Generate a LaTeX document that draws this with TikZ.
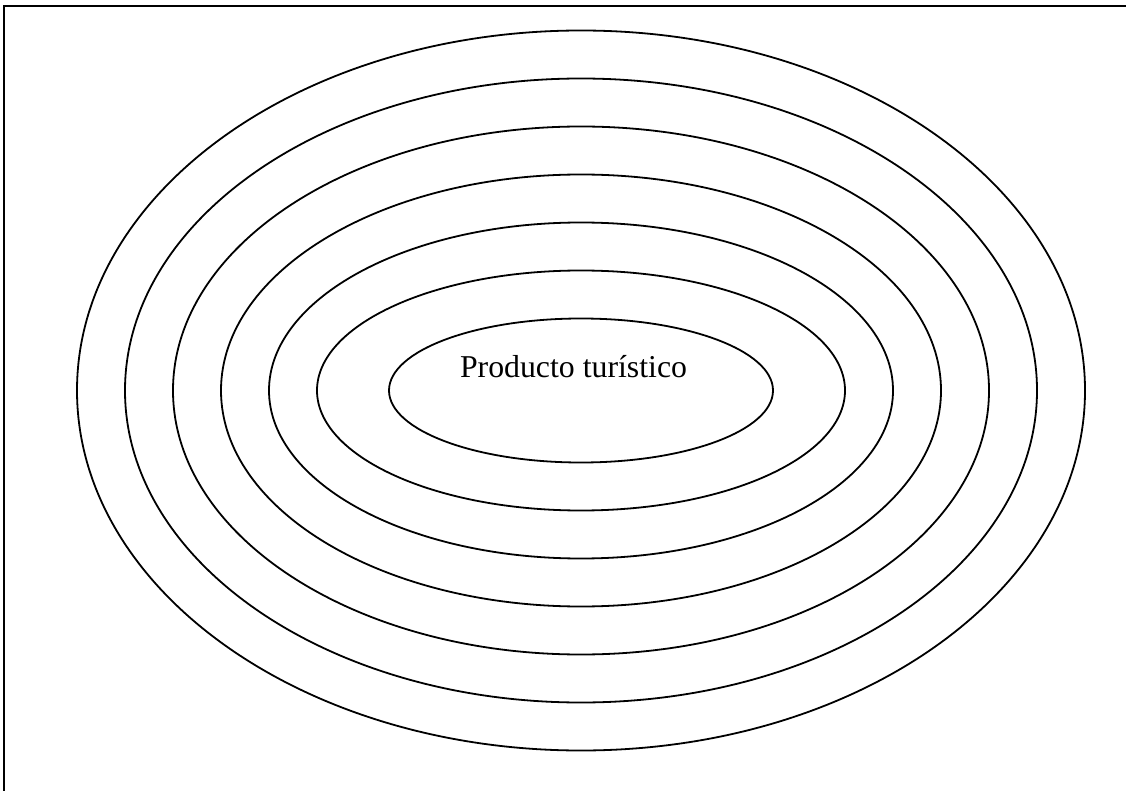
\documentclass[tikz,border=0pt]{standalone}
\usepackage{fontspec}
\setmainfont{Liberation Serif}
\usetikzlibrary{shapes.geometric}
\begin{document}
\begin{tikzpicture}[x=1pt,y=-1pt,
  ring/.style={draw, ellipse, line width=1.8pt, inner sep=0pt, minimum width=2*#1},
  frameline/.style={line width=2.4pt, line cap=rect},
  label/.style={font=\fontsize{31.8}{36}\selectfont, inner sep=0pt, anchor=base}]
  \useasboundingbox (0,0) rectangle (1126,791);
  % frame edges
  \coordinate (ftr) at (1126,6);
  \coordinate (ftl) at (4,6);
  \coordinate (fbl) at (4,791);
  \draw[frameline] (ftr) -- (ftl) -- (fbl);
  % concentric rings around the core product
  \coordinate (c) at (581,390.5);
  \node[ring=504, minimum height=720] (r7) at (c) {};
  \node[ring=456, minimum height=624] (r6) at (c) {};
  \node[ring=408, minimum height=528] (r5) at (c) {};
  \node[ring=360, minimum height=432] (r4) at (c) {};
  \node[ring=312, minimum height=336] (r3) at (c) {};
  \node[ring=264, minimum height=240] (r2) at (c) {};
  \node[ring=192, minimum height=144] (r1) at (c) {};
  \node[label] (core) at (573.5,377) {Producto turístico};
\end{tikzpicture}
\end{document}
